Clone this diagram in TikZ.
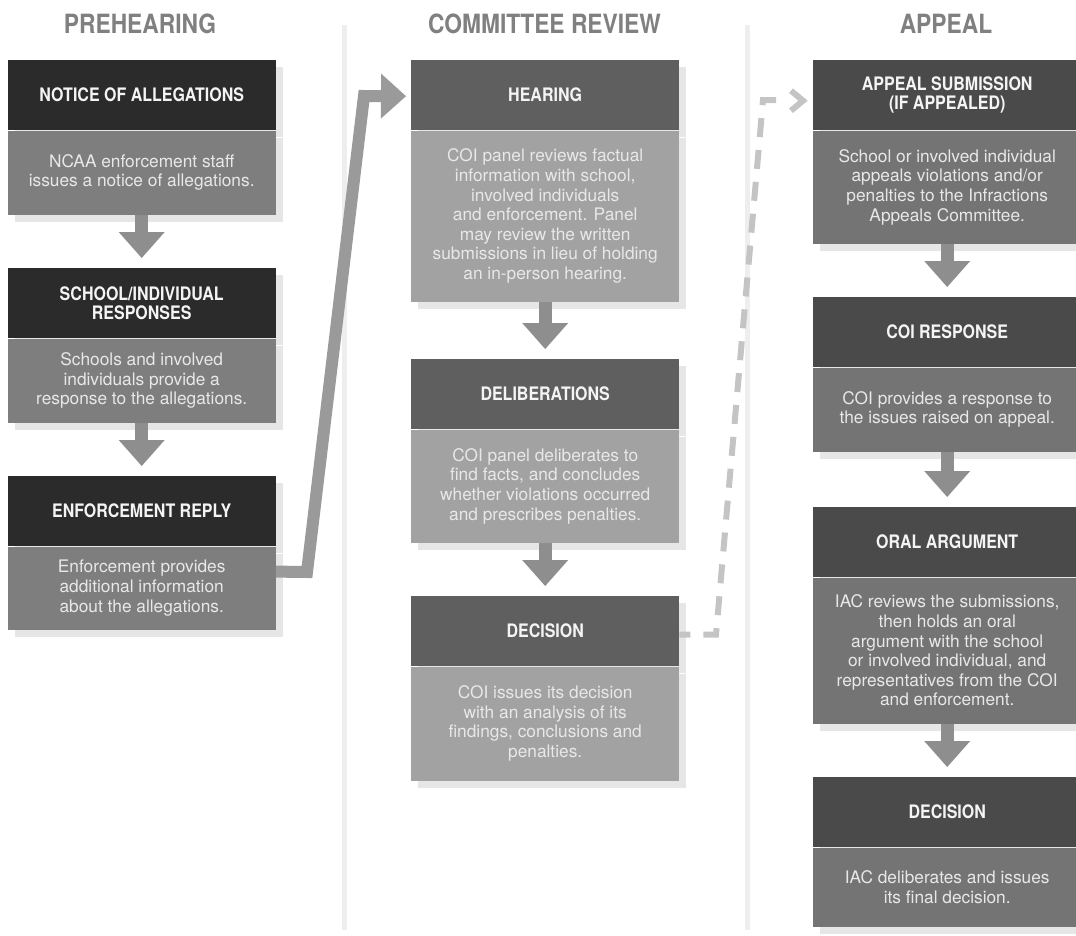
\documentclass[tikz,border=0pt]{standalone}
\usepackage{fontspec}
\setmainfont{TeX Gyre Heros}
\newfontfamily\condfont[FakeStretch=0.86]{TeX Gyre Heros}
\usetikzlibrary{arrows.meta,calc,shadows}

\definecolor{hdA}{HTML}{2B2B2B}
\definecolor{bdA}{HTML}{7E7E7E}
\definecolor{hdB}{HTML}{5F5F5F}
\definecolor{bdB}{HTML}{A2A2A2}
\definecolor{hdC}{HTML}{4A4A4A}
\definecolor{bdC}{HTML}{747474}
\definecolor{shad}{HTML}{E6E6E6}
\definecolor{divider}{HTML}{EEEEEE}
\definecolor{arrowgray}{HTML}{8E8E8E}
\definecolor{conngray}{HTML}{9A9A9A}
\definecolor{dashgray}{HTML}{C4C4C4}
\definecolor{headgray}{HTML}{808080}
\definecolor{bodytext}{HTML}{E8E8E8}
\definecolor{titletext}{HTML}{F4F4F4}

\begin{document}
\begin{tikzpicture}[x=1pt,y=-1pt,
  shd/.style={drop shadow={shadow xshift=7pt,shadow yshift=-7pt,fill=shad,opacity=1}},
  hdr/.style={shd, rectangle, inner sep=0pt, minimum width=268pt, minimum height=70pt,
    text=titletext, align=center, anchor=north west,
    font=\condfont\bfseries\fontsize{18.6}{18.5}\selectfont},
  bdy/.style={shd, rectangle, inner sep=0pt, minimum width=268pt, text=bodytext,
    align=center, anchor=north, font=\fontsize{17.3}{19.6}\selectfont},
  colhead/.style={text=headgray, anchor=base, inner sep=0pt,
    font=\condfont\bfseries\fontsize{26.5}{27}\selectfont},
  downarrow/.style={draw=arrowgray, line width=13pt,
    -{Triangle[width=46pt,length=26pt,line width=0pt]}, shorten >=10pt},
  bigconn/.style={draw=conngray, line width=12pt, line join=miter,
    -{Triangle[width=45pt,length=25pt,line width=0pt]}, shorten >=5pt},
  dashconn/.style={draw=dashgray, line width=6pt, dash pattern=on 19pt off 13pt,
    dash phase=8pt, line join=miter},
  chevron/.style={draw=dashgray, line width=6pt, line join=miter}
]
\useasboundingbox (0,0) rectangle (1076,935);

% dividers
\fill[divider] (341.5,25) rectangle (346.5,930);
\fill[divider] (744.5,25) rectangle (749.5,930);

% column headings
\node[colhead] (t1) at (140,33) {PREHEARING};
\node[colhead] (t2) at (544.5,33) {COMMITTEE REVIEW};
\node[colhead] (t3) at (946,33) {APPEAL};

% column 1
\node[hdr, fill=hdA] (h1) at (7.5,60) {NOTICE OF ALLEGATIONS};
\node[bdy, fill=bdA, minimum height=84pt] (b1) at (h1.south)
  {NCAA enforcement staff\\issues a notice of allegations.};
\node[hdr, fill=hdA] (h2) at (7.5,268) {SCHOOL/INDIVIDUAL\\RESPONSES};
\node[bdy, fill=bdA, minimum height=84pt] (b2) at (h2.south)
  {Schools and involved\\individuals provide a\\response to the allegations.};
\node[hdr, fill=hdA] (h3) at (7.5,476) {ENFORCEMENT REPLY};
\node[bdy, fill=bdA, minimum height=83pt] (b3) at (h3.south)
  {Enforcement provides\\additional information\\about the allegations.};

% column 2
\node[hdr, fill=hdB] (h4) at (411,60) {HEARING};
\node[bdy, fill=bdB, minimum height=171pt] (b4) at (h4.south)
  {COI panel reviews factual\\information with school,\\involved individuals\\and enforcement. Panel\\may review the written\\submissions in lieu of holding\\an in-person hearing.};
\node[hdr, fill=hdB] (h5) at (411,359) {DELIBERATIONS};
\node[bdy, fill=bdB, minimum height=113pt] (b5) at (h5.south)
  {COI panel deliberates to\\find facts, and concludes\\whether violations occurred\\and prescribes penalties.};
\node[hdr, fill=hdB] (h6) at (411,596) {DECISION};
\node[bdy, fill=bdB, minimum height=114pt] (b6) at (h6.south)
  {COI issues its decision\\with an analysis of its\\findings, conclusions and\\penalties.};

% column 3
\node[hdr, fill=hdC] (h7) at (813,60) {APPEAL SUBMISSION\\(IF APPEALED)};
\node[bdy, fill=bdC, minimum height=113pt] (b7) at (h7.south)
  {School or involved individual\\appeals violations and/or\\penalties to the Infractions\\Appeals Committee.};
\node[hdr, fill=hdC] (h8) at (813,297) {COI RESPONSE};
\node[bdy, fill=bdC, minimum height=84pt] (b8) at (h8.south)
  {COI provides a response to\\the issues raised on appeal.};
\node[hdr, fill=hdC] (h9) at (813,507) {ORAL ARGUMENT};
\node[bdy, fill=bdC, minimum height=146pt] (b9) at (h9.south)
  {IAC reviews the submissions,\\then holds an oral\\argument with the school\\or involved individual, and\\representatives from the COI\\and enforcement.};
\node[hdr, fill=hdC] (h10) at (813,777) {DECISION};
\node[bdy, fill=bdC, minimum height=79pt] (b10) at (h10.south)
  {IAC deliberates and issues\\its final decision.};

% down arrows
\draw[downarrow] (b1.south) -- (h2.north);
\draw[downarrow] (b2.south) -- (h3.north);
\draw[downarrow] (b4.south) -- (h5.north);
\draw[downarrow] (b5.south) -- (h6.north);
\draw[downarrow] (b7.south) -- (h8.north);
\draw[downarrow] (b8.south) -- (h9.north);
\draw[downarrow] (b9.south) -- (h10.north);

% big connector: enforcement reply -> hearing
\coordinate (k1) at (307,572);
\coordinate (k2) at (364,96);
\draw[bigconn] ($(b3.east)+(0,-16.5)$) -- (k1) -- (k2) -- ($(h4.west)+(0,1)$);

% dashed connector: decision -> appeal submission
\coordinate (d1) at (716,634.5);
\coordinate (d2) at (763,100);
\coordinate (d3) at (776,100);
\draw[dashconn] ($(h6.east)+(0,3.5)$) -- (d1) -- (d2) -- (d3);
\draw[chevron] ($(h7.west)+(-22,-4.5)$) -- ($(h7.west)+(-10,5.5)$) -- ($(h7.west)+(-22,15.5)$);
\end{tikzpicture}
\end{document}
